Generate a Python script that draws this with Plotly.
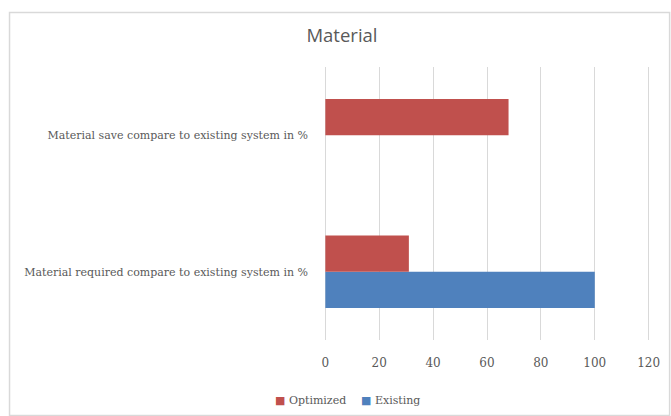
import plotly.graph_objects as go

# Chart data
categories = [
    "Material required compare to existing system in %",
    "Material save compare to existing system in %",
]
existing = [100, 0]
optimized = [31, 68]
x_ticks = [0, 20, 40, 60, 80, 100, 120]
series_names = ["Optimized", "Existing"]
series_colors = ["#C0504D", "#4F81BD"]

W, H = 671, 416
X_MIN, X_MAX = -0.5, 120.5
L, R, T, B = 323.65, 20.65, 67, 76
plot_w = W - L - R
plot_h = H - T - B

text_font = "DejaVu Serif"
grey = "#595959"

fig = go.Figure()
fig.add_trace(go.Bar(
    y=categories, x=existing, orientation="h", name=series_names[1],
    marker=dict(color=series_colors[1], line=dict(width=0)), showlegend=False,
))
fig.add_trace(go.Bar(
    y=categories, x=optimized, orientation="h", name=series_names[0],
    marker=dict(color=series_colors[0], line=dict(width=0)), showlegend=False,
))


def px_to_paper_x(px):
    return (px - L) / plot_w


def px_to_paper_y(py):
    return (H - B - py) / plot_h


# Light outer frame around the chart area
fig.add_shape(
    type="rect", xref="paper", yref="paper",
    x0=px_to_paper_x(8.5), x1=px_to_paper_x(670),
    y0=px_to_paper_y(415.5), y1=px_to_paper_y(12.5),
    line=dict(color="#D9D9D9", width=1.5), fillcolor="rgba(0,0,0,0)",
    layer="below",
)

# Compact legend below the axis: small coloured squares followed by names
legend_x = [277, 363]
for name, color, lx in zip(series_names, series_colors, legend_x):
    fig.add_annotation(
        xref="paper", yref="paper",
        x=px_to_paper_x(lx - 4), y=px_to_paper_y(400),
        xanchor="left", yanchor="middle", showarrow=False,
        text=f"<span style='color:{color}'>■</span> {name}",
        font=dict(family=text_font, size=11, color=grey),
    )

fig.update_layout(
    width=W, height=H,
    margin=dict(l=L, r=R, t=T, b=B, pad=0),
    paper_bgcolor="white", plot_bgcolor="white",
    barmode="group", bargap=0.47, bargroupgap=0,
    title=dict(
        text="Material", x=342 / W, xref="container", xanchor="center",
        y=1 - 36 / H, yref="container", yanchor="middle",
        font=dict(family="Open Sans", size=18.5, color=grey),
    ),
    xaxis=dict(
        range=[X_MIN, X_MAX], tickvals=x_ticks, ticktext=[str(v) for v in x_ticks],
        showgrid=True, gridcolor="#D9D9D9", gridwidth=1,
        zeroline=False, showline=False, ticks="",
        tickfont=dict(family=text_font, size=12, color=grey),
        ticklabelstandoff=14,
    ),
    yaxis=dict(
        categoryorder="array", categoryarray=categories,
        range=[-0.5, 1.5], showgrid=False, zeroline=False, showline=False,
        ticks="", tickfont=dict(family=text_font, size=11, color=grey),
        ticklabelstandoff=15,
    ),
    showlegend=False,
)

fig.write_html("out.html")
